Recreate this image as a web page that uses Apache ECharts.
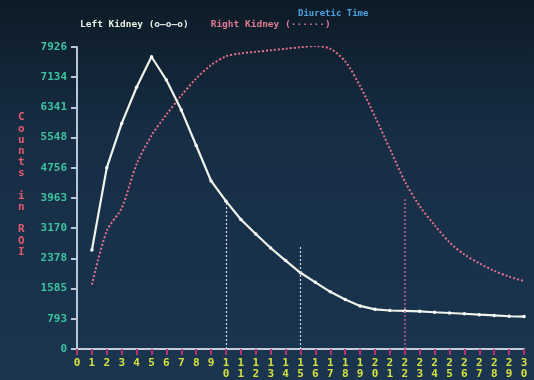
<!DOCTYPE html>
<html>
<head>
<meta charset="utf-8">
<script src="https://cdn.jsdelivr.net/npm/echarts@6/dist/echarts.min.js"></script>
<style>
html,body{margin:0;padding:0;background:#13263a;}
#c{width:534px;height:380px;}
</style>
</head>
<body>
<div id="c"></div>
<script>
// Data
const minutes = ['0','1','2','3','4','5','6','7','8','9','10','11','12','13','14','15','16','17','18','19','20','21','22','23','24','25','26','27','28','29','30'];
const yTickLabels = ['0','793','1585','2378','3170','3963','4756','5548','6341','7134','7926'];
const leftKidney = [null,2600,4760,5920,6870,7670,7060,6270,5340,4410,3880,3400,3020,2650,2320,2000,1750,1500,1300,1130,1040,1010,1000,990,965,945,925,900,880,860,850];
const rightKidney = [null,1690,3100,3700,4850,5600,6150,6650,7100,7450,7680,7760,7800,7840,7880,7920,7950,7880,7550,6900,6100,5250,4400,3750,3250,2800,2480,2250,2050,1900,1780];
const markerMinutes = ['10','15','22'];
const markerTops = [3880,2720,3950];
const yMax = 7926;

const chart = echarts.init(document.getElementById('c'));
const mono = '"DejaVu Sans Mono", "Liberation Mono", monospace';

chart.setOption({
  backgroundColor: {
    type: 'linear', x: 0, y: 0, x2: 0, y2: 1,
    colorStops: [
      {offset: 0, color: '#0e1b27'},
      {offset: 0.35, color: '#162d44'},
      {offset: 1, color: '#1b3550'}
    ]
  },
  animation: false,
  title: {
    text: 'Diuretic Time',
    left: 298, top: 9, padding: 0,
    textStyle: {color: '#4aa3e0', fontFamily: mono, fontSize: 9, fontWeight: 'bold'}
  },
  legend: {
    left: 75, top: 20, padding: 0,
    itemWidth: 0, itemHeight: 0, itemGap: 17,
    data: [
      {name: 'Left Kidney', icon: 'none', textStyle: {color: '#e8f0e4'}},
      {name: 'Right Kidney', icon: 'none', textStyle: {color: '#e07c92'}}
    ],
    formatter: function (n) { return n === 'Left Kidney' ? 'Left Kidney (o\u2014o\u2014o)' : 'Right Kidney (\u00b7\u00b7\u00b7\u00b7\u00b7\u00b7)'; },
    textStyle: {fontFamily: mono, fontSize: 9.5, fontWeight: 'bold', padding: 0}
  },
  graphic: [{
    type: 'text', left: 18, top: 112,
    style: {
      text: 'C\no\nu\nn\nt\ns\n \ni\nn\n \nR\nO\nI',
      fill: '#e05a6e', font: 'bold 11px ' + mono, lineHeight: 11.2, align: 'center'
    }
  }],
  grid: {left: 77, right: 10, top: 47, bottom: 28},
  xAxis: {
    type: 'category', data: minutes, boundaryGap: false,
    axisLine: {lineStyle: {color: '#c4ccd8', width: 2}},
    axisTick: {alignWithLabel: true, length: 6, lineStyle: {color: '#b3336a', width: 2}},
    axisLabel: {
      interval: 0, margin: 9, color: '#d6e23c', fontFamily: mono, fontSize: 11, fontWeight: 'bold', lineHeight: 11,
      formatter: function (v) { const n = +v; return n >= 10 ? Math.floor(n / 10) + '\n' + (n % 10) : v; }
    },
    splitLine: {show: false}
  },
  yAxis: {
    type: 'value', min: 0, max: yMax, interval: yMax / 10,
    axisLine: {show: true, lineStyle: {color: '#b8c6d6', width: 2}},
    axisTick: {show: true, length: 6, lineStyle: {color: '#b8c6d6', width: 2}},
    axisLabel: {
      margin: 10, color: '#3cc3a0', fontFamily: mono, fontSize: 11, fontWeight: 'bold',
      formatter: function (v) { const i = Math.round(v / (yMax / 10)); return yTickLabels[i] !== undefined ? yTickLabels[i] : ''; }
    },
    splitLine: {show: false}
  },
  series: [
    {
      name: 'Right Kidney', type: 'line', data: rightKidney, smooth: 0.3,
      showSymbol: false, symbol: 'none', connectNulls: false, z: 2,
      lineStyle: {color: '#e0708c', width: 2, type: [2, 2]},
      itemStyle: {color: '#e0708c'},
      markLine: {
        silent: true, symbol: 'none', label: {show: false},
        lineStyle: {color: '#c85a96', width: 1.5, type: [2, 2]},
        data: [[{coord: [markerMinutes[2], 0]}, {coord: [markerMinutes[2], markerTops[2]]}]]
      }
    },
    {
      name: 'Left Kidney', type: 'line', data: leftKidney, smooth: false,
      symbol: 'circle', symbolSize: 3.5, showSymbol: true, z: 3,
      lineStyle: {color: '#eef4ea', width: 2.2},
      itemStyle: {color: '#ffffff'},
      markLine: {
        silent: true, symbol: 'none', label: {show: false},
        lineStyle: {color: '#c8d8e6', width: 1.2, type: [2, 2]},
        data: [
          [{coord: [markerMinutes[0], 0]}, {coord: [markerMinutes[0], markerTops[0]]}],
          [{coord: [markerMinutes[1], 0]}, {coord: [markerMinutes[1], markerTops[1]]}]
        ]
      }
    }
  ]
});
</script>
</body>
</html>
